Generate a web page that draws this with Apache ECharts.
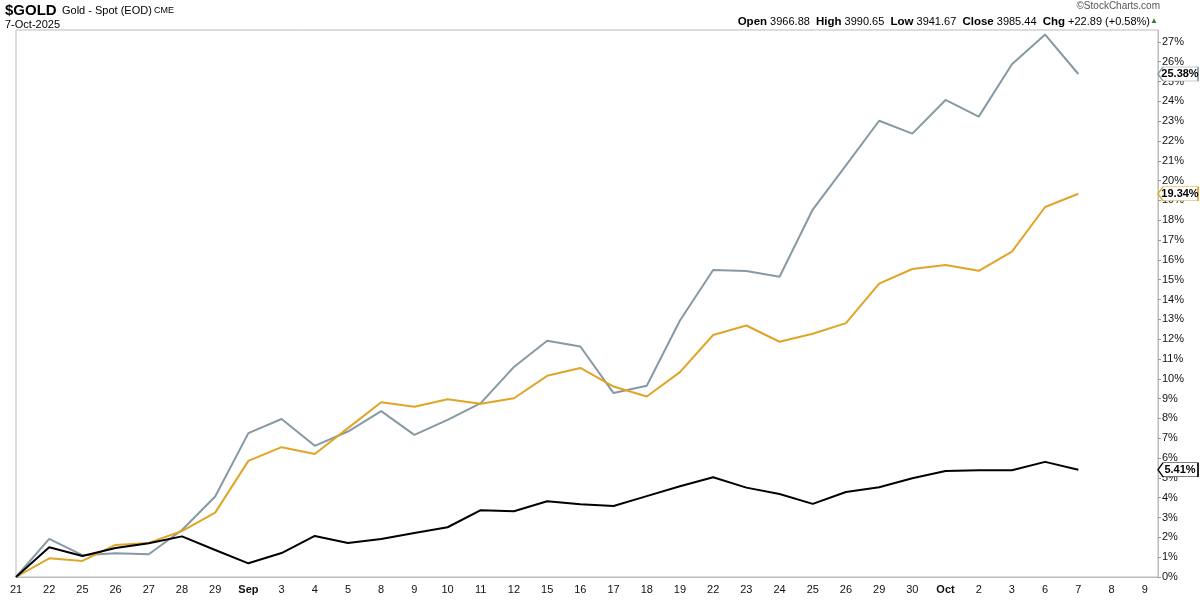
<!DOCTYPE html>
<html>
<head>
<meta charset="utf-8">
<script src="https://cdn.jsdelivr.net/npm/echarts@6/dist/echarts.min.js"></script>
<style>
html,body{margin:0;padding:0;background:#fff;}
#chart{width:1200px;height:600px;}
</style>
</head>
<body>
<div id="chart"></div>
<script>
const dates = ['21','22','25','26','27','28','29','Sep','3','4','5','8','9','10','11','12','15','16','17','18','19','22','23','24','25','26','29','30','Oct','2','3','6','7','8','9'];
const grayVals = [0,1.92,1.1,1.2,1.15,2.37,4.06,7.26,7.97,6.62,7.34,8.37,7.17,7.93,8.77,10.6,11.92,11.63,9.28,9.65,12.94,15.49,15.44,15.15,18.54,20.77,23.02,22.37,24.07,23.23,25.87,27.37,25.38];
const orangeVals = [0,0.94,0.81,1.62,1.72,2.32,3.25,5.86,6.55,6.21,7.51,8.82,8.59,8.97,8.74,9.02,10.15,10.55,9.61,9.11,10.34,12.21,12.69,11.87,12.27,12.81,14.8,15.54,15.74,15.45,16.42,18.67,19.34];
const blackVals = [0,1.5,1.06,1.46,1.7,2.05,1.36,0.69,1.21,2.07,1.72,1.92,2.22,2.51,3.37,3.32,3.82,3.67,3.58,4.08,4.58,5.03,4.51,4.19,3.69,4.29,4.53,4.98,5.35,5.39,5.39,5.81,5.41];
const boldLabels = ['Sep','Oct'];

const FONT = 'Liberation Sans, Arial, sans-serif';
const X_MAX = 34.4;
const Y_MAX = 27.6;

function toPairs(arr){ return arr.map((v,i)=>[i,v]); }

function mkSeries(name, vals, color, width){
  const last = vals[vals.length-1];
  return {
    name: name, type: 'line', data: toPairs(vals), showSymbol: false, symbol: 'none',
    lineStyle: {color: color, width: width}, itemStyle: {color: color},
    clip: false, z: 3,
    markPoint: {
      silent: true,
      symbol: 'path://M0,7 L5,0 L40,0 L40,14 L5,14 Z',
      symbolSize: [40,14],
      symbolKeepAspect: false,
      symbolOffset: [20, 0],
      itemStyle: {color: '#fff', borderColor: color, borderWidth: 1},
      label: {show: true, position: 'inside', color: '#000', fontWeight: 'bold', fontSize: 11, fontFamily: FONT,
        offset: [2,0],
        formatter: p => p.value.toFixed(2) + '%'},
      data: [{coord: [X_MAX, last], value: last}],
      z: 10
    }
  };
}

const chart = echarts.init(document.getElementById('chart'), null, {renderer: 'canvas'});
chart.setOption({
  animation: false,
  backgroundColor: '#fff',
  grid: {left: 16, right: 42, top: 30, bottom: 23, show: true, borderColor: '#bbb', borderWidth: 1},
  xAxis: {
    type: 'value', min: 0, max: X_MAX, interval: 1,
    axisLine: {show: true, onZero: false, lineStyle: {color: '#bbb'}},
    axisTick: {show: false},
    splitLine: {show: false},
    axisLabel: {
      margin: 7, fontSize: 11, fontFamily: FONT, color: '#111',
      showMinLabel: true, showMaxLabel: true,
      formatter: function(v){
        if (Math.abs(v - Math.round(v)) > 1e-6) return '';
        const s = dates[Math.round(v)];
        if (s === undefined) return '';
        return boldLabels.indexOf(s) >= 0 ? '{b|' + s + '}' : s;
      },
      rich: {b: {fontWeight: 'bold', fontSize: 11, fontFamily: FONT, color: '#111'}}
    }
  },
  yAxis: {
    type: 'value', position: 'right', min: 0, max: Y_MAX, interval: 1,
    axisLine: {show: true, onZero: false, lineStyle: {color: '#bbb'}},
    axisTick: {show: true, length: 3, lineStyle: {color: '#999'}},
    splitLine: {show: false},
    axisLabel: {
      margin: 4, fontSize: 11, fontFamily: FONT, color: '#111',
      showMaxLabel: false,
      formatter: function(v){
        if (Math.abs(v - Math.round(v)) > 1e-6) return '';
        return Math.round(v) + '%';
      }
    }
  },
  series: [
    mkSeries('Silver', grayVals, '#8799a3', 2),
    mkSeries('Other', orangeVals, '#e0a526', 2),
    mkSeries('$GOLD', blackVals, '#000000', 2)
  ],
  graphic: [
    {type: 'text', left: 5, top: 3, style: {text: '$GOLD', font: 'bold 15px ' + FONT, fill: '#000'}},
    {type: 'text', left: 62, top: 5, style: {text: 'Gold - Spot (EOD)', font: '11px ' + FONT, fill: '#000'}},
    {type: 'text', left: 154, top: 6, style: {text: 'CME', font: '9px ' + FONT, fill: '#000'}},
    {type: 'text', left: 5, top: 19, style: {text: '7-Oct-2025', font: '11px ' + FONT, fill: '#000'}},
    {type: 'text', right: 40, top: 1, style: {text: '\u00a9StockCharts.com', font: '10px ' + FONT, fill: '#555'}},
    {type: 'text', right: 50, top: 16, style: {
      text: '{b|Open} 3966.88  {b|High} 3990.65  {b|Low} 3941.67  {b|Close} 3985.44  {b|Chg} +22.89 (+0.58%)',
      font: '11px ' + FONT, fill: '#000',
      rich: {b: {fontWeight: 'bold', fontSize: 11.5, fontFamily: FONT, fill: '#000'}}
    }},
    {type: 'text', right: 42, top: 17, style: {text: '\u25b2', font: '8px ' + FONT, fill: '#2e7d32'}}
  ]
});
</script>
</body>
</html>
